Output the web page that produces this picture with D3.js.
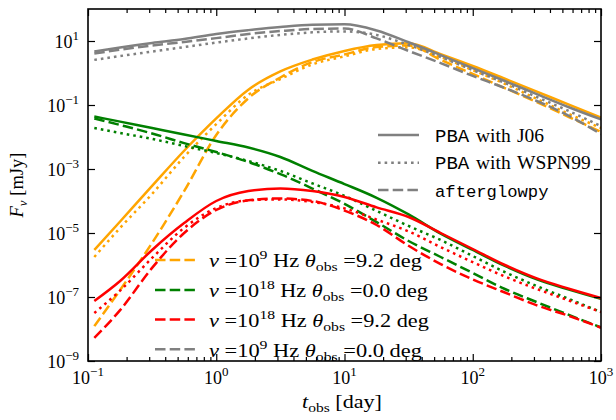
<!DOCTYPE html>
<html><head><meta charset="utf-8">
<script src="https://cdn.jsdelivr.net/npm/d3@7"></script>
<style>
body{margin:0;background:#fff}
svg{display:block}
</style>
</head><body>
<svg id="chart" width="616" height="420"></svg>
<script>
// ---- data (flux as log10 of mJy) ----
const tObs = [0.112, 0.178, 0.316, 0.562, 1, 1.78, 3.16, 5.62, 10, 17.8, 31.6, 56.2, 100, 178, 316, 562, 1000];

// nu=1e9 Hz, theta=9.2 deg (orange)
const radioOffJ06     = [-5.53, -4.64, -3.53, -2.43, -1.42, -0.52, 0.05, 0.42, 0.69, 0.875, 0.93, 0.59, 0.22, -0.18, -0.58, -0.99, -1.39];
const radioOffWSPN    = [-5.75, -4.84, -3.78, -2.62, -1.60, -0.68, -0.19, 0.27, 0.52, 0.75, 0.80, 0.50, 0.09, -0.34, -0.81, -1.28, -1.72];
const radioOffAG      = [-7.91, -6.78, -5.31, -3.69, -1.94, -0.79, -0.14, 0.34, 0.58, 0.81, 0.86, 0.41, -0.03, -0.47, -0.91, -1.375, -1.84];
// nu=1e18 Hz, theta=0.0 deg (green)
const xrayOnJ06       = [-1.36, -1.52, -1.72, -1.92, -2.125, -2.33, -2.625, -3.06, -3.47, -3.90, -4.42, -5.02, -5.53, -6.03, -6.45, -6.77, -7.06];
const xrayOnWSPN      = [-1.72, -1.875, -2.06, -2.28, -2.50, -2.75, -3.06, -3.45, -3.84, -4.31, -4.78, -5.22, -5.72, -6.22, -6.66, -7.06, -7.47];
const xrayOnAG        = [-1.42, -1.625, -1.89, -2.19, -2.47, -2.78, -3.16, -3.61, -4.09, -4.66, -5.25, -5.75, -6.25, -6.75, -7.16, -7.56, -7.95];
// nu=1e18 Hz, theta=9.2 deg (red)
const xrayOffJ06      = [-7.125, -6.50, -5.53, -4.69, -4.00, -3.69, -3.61, -3.69, -3.875, -4.20, -4.50, -5.00, -5.50, -6.00, -6.42, -6.74, -7.03];
const xrayOffWSPN     = [-7.50, -6.80, -5.78, -4.84, -4.22, -3.98, -3.95, -4.03, -4.23, -4.58, -4.95, -5.44, -5.91, -6.36, -6.75, -7.11, -7.47];
const xrayOffAG       = [-8.28, -7.41, -6.09, -5.00, -4.28, -3.98, -3.92, -4.00, -4.30, -4.75, -5.40, -5.97, -6.45, -6.86, -7.26, -7.59, -7.96];
// nu=1e9 Hz, theta=0.0 deg (gray)
const radioOnJ06      = [0.67, 0.80, 0.94, 1.06, 1.22, 1.34, 1.44, 1.51, 1.52, 1.33, 0.96, 0.56, 0.15, -0.25, -0.66, -1.07, -1.45];
const radioOnWSPN     = [0.41, 0.53, 0.67, 0.81, 0.95, 1.08, 1.19, 1.27, 1.30, 1.19, 0.875, 0.50, 0.09, -0.31, -0.75, -1.19, -1.66];
const radioOnAG       = [0.61, 0.73, 0.86, 0.97, 1.09, 1.22, 1.31, 1.375, 1.39, 1.08, 0.69, 0.31, -0.09, -0.47, -0.875, -1.34, -1.91];

const groupLabels = [
  {nu:"9",  th:"9.2"},
  {nu:"18", th:"0.0"},
  {nu:"18", th:"9.2"},
  {nu:"9",  th:"0.0"}
];
const groupColors = ["orange", "green", "red", "gray"];
const groupSeries = [
  [radioOffJ06, radioOffWSPN, radioOffAG],
  [xrayOnJ06, xrayOnWSPN, xrayOnAG],
  [xrayOffJ06, xrayOffWSPN, xrayOffAG],
  [radioOnJ06, radioOnWSPN, radioOnAG]
];
const methodCode = ["PBA", "PBA", "afterglowpy"];
const methodRef  = ["J06", "WSPN99", ""];
const methodDash = [null, "2.6,4.0", "10.5,4.2"];

const xTickVals = [0.1, 1, 10, 100, 1000];
const xTickExp  = ["−1", "0", "1", "2", "3"];
const yTickVals = [1e1, 1e-1, 1e-3, 1e-5, 1e-7, 1e-9];
const yTickExp  = ["1", "−1", "−3", "−5", "−7", "−9"];

const SERIF = "'Liberation Serif', 'DejaVu Serif', 'Noto Serif', Tinos, 'Times New Roman', Times, FreeSerif, serif";
const MONO = "'Liberation Mono', 'DejaVu Sans Mono', monospace";

// ---- layout ----
const L = 88, R = 601, T = 9, B = 361;
const svg = d3.select("#chart");
const x = d3.scaleLog().domain([0.1, 1000]).range([L, R]);
const y = d3.scaleLog().domain([1e-9, 1e2]).range([B, T]);

svg.append("defs").append("clipPath").attr("id", "clip")
  .append("rect").attr("x", L).attr("y", T).attr("width", R - L).attr("height", B - T);

const line = d3.line().x(d => x(d[0])).y(d => y(d[1])).curve(d3.curveMonotoneX);

const plot = svg.append("g").attr("clip-path", "url(#clip)");
groupSeries.forEach((grp, gi) => {
  grp.forEach((vals, mi) => {
    const pts = tObs.map((t, i) => [t, Math.pow(10, vals[i])]);
    plot.append("path").datum(pts)
      .attr("d", line)
      .attr("fill", "none")
      .attr("stroke", groupColors[gi])
      .attr("stroke-width", 2.5)
      .attr("stroke-dasharray", methodDash[mi]);
  });
});

// ---- axes (ticks inward on all sides) ----
const minorX = [];
[0.1, 1, 10, 100].forEach(d => { for (let k = 2; k <= 9; k++) minorX.push(d * k); });

function tickAxis(axisFn, scale, vals, size, tr) {
  svg.append("g").attr("transform", tr)
    .call(axisFn(scale).tickValues(vals).tickSize(size).tickFormat(""))
    .call(g => g.select(".domain").remove())
    .call(g => g.selectAll("line").attr("stroke", "#000").attr("stroke-width", 1.2));
}
tickAxis(d3.axisBottom, x, xTickVals, -7, `translate(0,${B})`);
tickAxis(d3.axisBottom, x, minorX, -4, `translate(0,${B})`);
tickAxis(d3.axisTop, x, xTickVals, -7, `translate(0,${T})`);
tickAxis(d3.axisTop, x, minorX, -4, `translate(0,${T})`);
tickAxis(d3.axisLeft, y, yTickVals, -7, `translate(${L},0)`);
tickAxis(d3.axisRight, y, yTickVals, -7, `translate(${R},0)`);

svg.append("rect").attr("x", L).attr("y", T).attr("width", R - L).attr("height", B - T)
  .attr("fill", "none").attr("stroke", "#000").attr("stroke-width", 1.6);

function txt(xp, yp, size, fam) {
  return svg.append("text").attr("x", xp).attr("y", yp)
    .attr("font-family", fam || SERIF).attr("font-size", size).attr("fill", "#000")
    .style("white-space", "pre");
}
// stretch a left-anchored text horizontally so that it spans the reference width
function fitWidth(sel, x0, target) {
  const w = sel.node().getBBox().width;
  if (w > 0) {
    const s = target / w;
    sel.attr("transform", `translate(${x0},0) scale(${s},1) translate(${-x0},0)`);
  }
}

// tick labels
xTickVals.forEach((v, i) => {
  const t = txt(x(v), 384, 18).attr("text-anchor", "middle");
  t.append("tspan").text("10");
  t.append("tspan").attr("dy", -8).attr("font-size", 13).text(xTickExp[i]);
});
yTickVals.forEach((v, i) => {
  const t = txt(79, y(v) + 6.5, 18).attr("text-anchor", "end");
  t.append("tspan").text("10");
  t.append("tspan").attr("dy", -8).attr("font-size", 13).text(yTickExp[i]);
});

// axis titles
const xt = txt(302, 408, 18.5);
xt.append("tspan").attr("font-style", "italic").text("t");
xt.append("tspan").attr("font-size", 13).attr("dy", 4).text("obs");
xt.append("tspan").attr("dy", -4).text(" [day]");
fitWidth(xt, 302, 80);

const yt = svg.append("text").attr("transform", `translate(23,${(T + B) / 2}) rotate(-90)`)
  .attr("font-family", SERIF).attr("font-size", 18.5).attr("fill", "#000")
  .attr("text-anchor", "middle").style("white-space", "pre");
yt.append("tspan").attr("font-style", "italic").text("F");
yt.append("tspan").attr("font-style", "italic").attr("font-size", 13).attr("dy", 4).text("ν");
yt.append("tspan").attr("dy", -4).text(" [mJy]");

// ---- legend 1: methods (words placed where the reference shows them) ----
const leg1Y = [135, 162.7, 190];
methodCode.forEach((code, i) => {
  svg.append("line").attr("x1", 378).attr("x2", 419).attr("y1", leg1Y[i]).attr("y2", leg1Y[i])
    .attr("stroke", "gray").attr("stroke-width", 2.5).attr("stroke-dasharray", methodDash[i]);
  const base = leg1Y[i] + 6.5;
  if (methodRef[i]) {
    txt(435, base, 19, MONO).text(code);
    txt(476, base, 19.5).text("with");
    txt(517, base, 19.5).text(methodRef[i]);
  } else {
    txt(435, base, 17.2, MONO).text(code);
  }
});

// ---- legend 2: frequency / angle ----
const leg2Y = [260, 290, 319.5, 349.3];
const leg2W = [213, 219, 220, 213];
groupLabels.forEach((g, i) => {
  svg.append("line").attr("x1", 155).attr("x2", 195).attr("y1", leg2Y[i]).attr("y2", leg2Y[i])
    .attr("stroke", groupColors[i]).attr("stroke-width", 2.5).attr("stroke-dasharray", methodDash[2]);
  const t = txt(209, leg2Y[i] + 7.5, 18.5);
  t.append("tspan").attr("font-style", "italic").text("ν");
  t.append("tspan").text(" =10");
  t.append("tspan").attr("dy", -8).attr("font-size", 13).text(g.nu);
  t.append("tspan").attr("dy", 8).text(" Hz ");
  t.append("tspan").attr("font-style", "italic").text("θ");
  t.append("tspan").attr("dy", 4).attr("font-size", 13).text("obs");
  t.append("tspan").attr("dy", -4).text(" =" + g.th + " deg");
  fitWidth(t, 209, leg2W[i]);
});
</script>
</body></html>
